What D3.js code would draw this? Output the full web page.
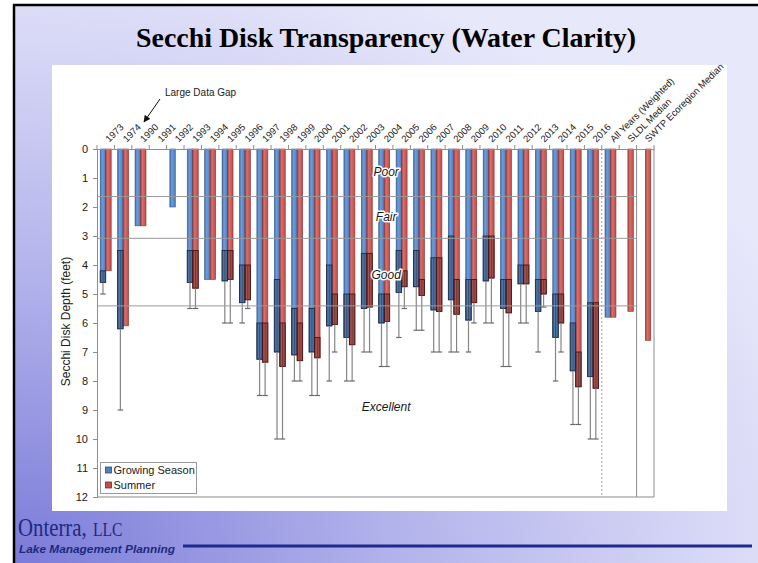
<!DOCTYPE html>
<html>
<head>
<meta charset="utf-8">
<script src="https://d3js.org/d3.v7.min.js"></script>
<style>
  body { margin: 0; background: #fff; }
  svg { display: block; }
  text { font-family: "Liberation Sans", Arial, sans-serif; fill: #1a1a1a; }
</style>
</head>
<body>
<svg id="chart" width="758" height="563"></svg>
<script>
// categories along the top axis
var categories = ["1973","1974","1990","1991","1992","1993","1994","1995","1996","1997",
  "1998","1999","2000","2001","2002","2003","2004","2005","2006","2007","2008","2009",
  "2010","2011","2012","2013","2014","2015","2016",
  "All Years (Weighted)","SLDL Median","SWTP Ecoregion Median"];

// growing season: mean, min, max (feet)
var gsMean = [4.6, 6.2, 2.65, null, 2.0, 4.6, 4.5, 4.55, 5.3, 7.25, 7.0, 7.1, 7.0, 6.1, 6.5, 5.5,
  6.0, 4.95, 4.75, 5.55, 5.2, 5.9, 4.55, 5.5, 4.65, 5.6, 6.5, 7.65, 7.85, 5.8, null, null];
var gsMin  = [4.2, 3.5, 2.65, null, 2.0, 3.5, 4.5, 3.5, 4.0, 6.0, 4.5, 5.5, 5.5, 4.0, 5.0, 3.6,
  5.0, 3.5, 3.5, 3.75, 3.0, 4.5, 3.0, 4.5, 4.0, 4.5, 5.0, 6.0, 5.3, 5.8, null, null];
var gsMax  = [5.0, 9.0, 2.65, null, 2.0, 5.5, 4.5, 6.0, 6.0, 8.5, 10.0, 8.0, 8.5, 8.0, 8.0, 7.0,
  7.5, 6.5, 6.25, 7.0, 7.0, 7.0, 6.0, 7.5, 6.0, 7.0, 8.0, 9.5, 10.0, 5.8, null, null];

// summer: mean, min, max (feet)
var suMean = [4.2, 6.1, 2.65, null, null, 4.8, 4.5, 4.5, 5.2, 7.35, 7.5, 7.3, 7.2, 6.05, 6.75, 5.45,
  5.95, 4.75, 5.05, 5.6, 5.7, 5.3, 4.45, 5.65, 4.65, 5.0, 6.0, 8.2, 8.25, 5.8, 5.6, 6.6];
var suMin  = [4.2, 6.1, 2.65, null, null, 3.5, 4.5, 3.5, 4.0, 6.0, 6.0, 6.0, 6.5, 5.0, 5.0, 3.6,
  5.0, 4.2, 4.5, 3.75, 4.5, 4.5, 3.0, 4.5, 4.0, 4.5, 5.0, 7.0, 5.3, 5.8, 5.6, 6.6];
var suMax  = [4.2, 6.1, 2.65, null, null, 5.5, 4.5, 6.0, 5.5, 8.5, 10.0, 8.0, 8.5, 7.0, 8.0, 7.0,
  7.5, 5.5, 6.25, 7.0, 7.0, 6.0, 6.0, 7.5, 6.0, 5.45, 7.0, 9.5, 10.0, 5.8, 5.6, 6.6];

var yTicks = [0,1,2,3,4,5,6,7,8,9,10,11,12];
var thresholds = [1.64, 3.08, 5.41];
var zoneLabels = ["Poor", "Fair", "Good", "Excellent"];
var zoneDepths = [0.8, 2.35, 4.35, 8.9];
var seriesNames = ["Growing Season", "Summer"];

var svg = d3.select("#chart");
var defs = svg.append("defs");

// slide background
var bg = defs.append("radialGradient").attr("id", "bg")
  .attr("cx", "0").attr("cy", "1").attr("r", "1.15");
bg.append("stop").attr("offset", "0").attr("stop-color", "#7b7bd9");
bg.append("stop").attr("offset", "0.45").attr("stop-color", "#b3b3ec");
bg.append("stop").attr("offset", "0.8").attr("stop-color", "#d6d6f6");
bg.append("stop").attr("offset", "1").attr("stop-color", "#e8e8fb");

function barGrad(id, c0, c1, c2) {
  var g = defs.append("linearGradient").attr("id", id)
    .attr("x1", "0").attr("y1", "0").attr("x2", "1").attr("y2", "0");
  g.append("stop").attr("offset", "0").attr("stop-color", c0);
  g.append("stop").attr("offset", "0.35").attr("stop-color", c1);
  g.append("stop").attr("offset", "1").attr("stop-color", c2);
}
barGrad("gBlue", "#3f6ba8", "#6e9dda", "#4a7cbd");
barGrad("gRed", "#a6403d", "#db6e6a", "#bc4d4a");

var arrow = defs.append("marker").attr("id", "arr")
  .attr("viewBox", "0 0 10 10").attr("refX", 9).attr("refY", 5)
  .attr("markerWidth", 7).attr("markerHeight", 7).attr("orient", "auto");
arrow.append("path").attr("d", "M0,0 L10,5 L0,10 z").attr("fill", "#111");

svg.append("rect").attr("width", 758).attr("height", 563).attr("fill", "#fff");
svg.append("rect").attr("x", 14).attr("y", 5).attr("width", 744).attr("height", 558).attr("fill", "url(#bg)");
svg.append("line").attr("x1", 13).attr("x2", 758).attr("y1", 5).attr("y2", 5).attr("stroke", "#000").attr("stroke-width", 2.5);
svg.append("line").attr("x1", 14).attr("x2", 14).attr("y1", 4).attr("y2", 563).attr("stroke", "#000").attr("stroke-width", 2.5);

svg.append("text").attr("x", 386).attr("y", 47).attr("text-anchor", "middle")
  .attr("textLength", 500).attr("lengthAdjust", "spacingAndGlyphs")
  .style("font-family", "'Liberation Serif', 'DejaVu Serif', serif")
  .style("font-weight", "bold").style("font-size", "28px").style("fill", "#000")
  .text("Secchi Disk Transparency (Water Clarity)");

// white chart panel
svg.append("rect").attr("x", 52).attr("y", 65).attr("width", 675).attr("height", 446).attr("fill", "#fff");

// scales
var x = d3.scaleBand().domain(categories).range([97, 654]).paddingInner(0.37).paddingOuter(0.185);
var xs = d3.scaleBand().domain(["gs", "su"]).range([0, x.bandwidth()]);
var y = d3.scaleLinear().domain([0, 12]).range([149, 497]);

function edge(i) { // left boundary of category i
  return i < categories.length ? x(categories[i]) - x.step() * x.paddingOuter()
                               : x.range()[1];
}

var rows = [];
categories.forEach(function(c, i) {
  if (gsMean[i] != null) rows.push({cat: c, key: "gs", mean: gsMean[i], min: gsMin[i], max: gsMax[i]});
  if (suMean[i] != null) rows.push({cat: c, key: "su", mean: suMean[i], min: suMin[i], max: suMax[i]});
});

var plot = svg.append("g");

// bars
plot.selectAll("rect.bar").data(rows).enter().append("rect")
  .attr("class", "bar")
  .attr("x", function(d) { return x(d.cat) + xs(d.key); })
  .attr("y", y(0))
  .attr("width", xs.bandwidth())
  .attr("height", function(d) { return y(d.mean) - y(0); })
  .attr("fill", function(d) { return d.key == "gs" ? "url(#gBlue)" : "url(#gRed)"; })
  .attr("stroke", function(d) { return d.key == "gs" ? "#34598a" : "#843230"; })
  .attr("stroke-width", 0.6);

// darker part between min and mean
var ranged = rows.filter(function(d) { return d.min < d.mean; });
plot.selectAll("rect.inset").data(ranged).enter().append("rect")
  .attr("class", "inset")
  .attr("x", function(d) { return x(d.cat) + xs(d.key); })
  .attr("y", function(d) { return y(d.min); })
  .attr("width", xs.bandwidth())
  .attr("height", function(d) { return y(d.mean) - y(d.min); })
  .attr("fill", "#000").attr("fill-opacity", 0.2)
  .attr("stroke", function(d) { return d.key == "gs" ? "#1d2f4d" : "#4a1716"; })
  .attr("stroke-width", 0.9);

plot.selectAll("line.inner").data(ranged).enter().append("line")
  .attr("x1", function(d) { return x(d.cat) + xs(d.key) + xs.bandwidth() / 2; })
  .attr("x2", function(d) { return x(d.cat) + xs(d.key) + xs.bandwidth() / 2; })
  .attr("y1", function(d) { return y(d.min); })
  .attr("y2", function(d) { return y(d.mean); })
  .attr("stroke", "#222").attr("stroke-opacity", 0.45).attr("stroke-width", 1);

// whiskers to max
var upper = rows.filter(function(d) { return d.max > d.mean; });
plot.selectAll("line.whisk").data(upper).enter().append("line")
  .attr("x1", function(d) { return x(d.cat) + xs(d.key) + xs.bandwidth() / 2; })
  .attr("x2", function(d) { return x(d.cat) + xs(d.key) + xs.bandwidth() / 2; })
  .attr("y1", function(d) { return y(d.mean); })
  .attr("y2", function(d) { return y(d.max); })
  .attr("stroke", "#858585").attr("stroke-width", 1.2);
plot.selectAll("line.cap").data(upper).enter().append("line")
  .attr("x1", function(d) { return x(d.cat) + xs(d.key); })
  .attr("x2", function(d) { return x(d.cat) + xs(d.key) + xs.bandwidth(); })
  .attr("y1", function(d) { return y(d.max); })
  .attr("y2", function(d) { return y(d.max); })
  .attr("stroke", "#6a6a6a").attr("stroke-width", 1.2);

// threshold lines
plot.selectAll("line.thr").data(thresholds).enter().append("line")
  .attr("x1", x.range()[0]).attr("x2", edge(31))
  .attr("y1", function(d) { return y(d); }).attr("y2", function(d) { return y(d); })
  .attr("stroke", "#9a9a9a").attr("stroke-width", 1);

// separators
plot.append("line").attr("x1", edge(29)).attr("x2", edge(29)).attr("y1", y(0)).attr("y2", y(12))
  .attr("stroke", "#a5a5a5").attr("stroke-width", 1).attr("stroke-dasharray", "2,2");
plot.append("line").attr("x1", edge(31)).attr("x2", edge(31)).attr("y1", y(0)).attr("y2", y(12))
  .attr("stroke", "#8c8c8c").attr("stroke-width", 1);
plot.append("line").attr("x1", x.range()[1]).attr("x2", x.range()[1]).attr("y1", y(0)).attr("y2", y(12))
  .attr("stroke", "#8c8c8c").attr("stroke-width", 1);
plot.append("line").attr("x1", x.range()[0]).attr("x2", x.range()[1]).attr("y1", y(12)).attr("y2", y(12))
  .attr("stroke", "#8c8c8c").attr("stroke-width", 1);

// left axis
var yAxis = svg.append("g").attr("transform", "translate(" + x.range()[0] + ",0)")
  .call(d3.axisLeft(y).tickValues(yTicks).tickSize(4).tickPadding(5));
yAxis.select(".domain").attr("stroke", "#8c8c8c");
yAxis.selectAll(".tick line").attr("stroke", "#8c8c8c");
yAxis.selectAll(".tick text").style("font-size", "11px").style("font-family", "'Liberation Sans', Arial, sans-serif").attr("fill", "#222");

// top axis, rotated labels
var xAxis = svg.append("g").attr("transform", "translate(0," + y(0) + ")")
  .call(d3.axisTop(x).tickSize(0).tickPadding(0));
xAxis.select(".domain").attr("stroke", "#8c8c8c");
xAxis.selectAll(".tick text")
  .attr("x", 7).attr("y", -2).attr("dy", 0)
  .attr("transform", "rotate(-45)")
  .style("text-anchor", "start")
  .style("font-size", "9.5px").style("font-family", "'Liberation Sans', Arial, sans-serif")
  .attr("fill", "#222");
svg.append("g").selectAll("line").data(d3.range(categories.length + 1)).enter().append("line")
  .attr("x1", function(i) { return edge(i); }).attr("x2", function(i) { return edge(i); })
  .attr("y1", y(0)).attr("y2", y(0) - 4)
  .attr("stroke", "#8c8c8c");

svg.append("text").attr("transform", "translate(70," + y(5.95) + ") rotate(-90)")
  .attr("text-anchor", "middle").style("font-size", "12px")
  .text("Secchi Disk Depth (feet)");

// zone labels
var zx = x("2004") + x.bandwidth() / 2 + 2;
svg.selectAll("text.zone").data(zoneLabels).enter().append("text")
  .attr("class", "zone")
  .attr("x", zx)
  .attr("y", function(d, i) { return y(zoneDepths[i]) + 4; })
  .attr("text-anchor", "middle")
  .style("font-size", "12px").style("font-style", "italic")
  .style("paint-order", "stroke").style("stroke", "#fff").style("stroke-width", "3px")
  .style("stroke-linejoin", "round")
  .text(function(d) { return d; });

// annotation
svg.append("text").attr("x", 165).attr("y", 96).style("font-size", "10px").text("Large Data Gap");
svg.append("line").attr("x1", 160).attr("y1", 99).attr("x2", 144).attr("y2", 122)
  .attr("stroke", "#111").attr("stroke-width", 1).attr("marker-end", "url(#arr)");

// legend
var lg = svg.append("g").attr("transform", "translate(100.5,462.5)");
lg.append("rect").attr("width", 96).attr("height", 31).attr("fill", "#fff").attr("stroke", "#999");
lg.selectAll("rect.sw").data(seriesNames).enter().append("rect")
  .attr("class", "sw")
  .attr("x", 5).attr("y", function(d, i) { return 4.5 + i * 15; })
  .attr("width", 6).attr("height", 6)
  .attr("fill", function(d, i) { return i == 0 ? "#4f81bd" : "#c0504d"; })
  .attr("stroke", function(d, i) { return i == 0 ? "#2c4d75" : "#772c2a"; }).attr("stroke-width", 0.8);
lg.selectAll("text").data(seriesNames).enter().append("text")
  .attr("x", 13).attr("y", function(d, i) { return 11.5 + i * 15; })
  .style("font-size", "11px").text(function(d) { return d; });

// footer logo
svg.append("text").attr("transform", "translate(18,536) scale(0.8,1)")
  .style("font-family", "'Liberation Serif', serif").style("font-size", "26px").style("fill", "#1b2a80")
  .text("Onterra,");
svg.append("text").attr("transform", "translate(93,536) scale(0.82,1)")
  .style("font-family", "'Liberation Serif', serif").style("font-size", "19px").style("fill", "#1b2a80")
  .text("LLC");
svg.append("text").attr("x", 19).attr("y", 553)
  .attr("textLength", 156).attr("lengthAdjust", "spacingAndGlyphs")
  .style("font-size", "11px").style("font-weight", "bold").style("font-style", "italic")
  .style("fill", "#1b2a80").text("Lake Management Planning");
svg.append("line").attr("x1", 183).attr("x2", 752).attr("y1", 546).attr("y2", 546)
  .attr("stroke", "#1f2a8c").attr("stroke-width", 3);
</script>
</body>
</html>
